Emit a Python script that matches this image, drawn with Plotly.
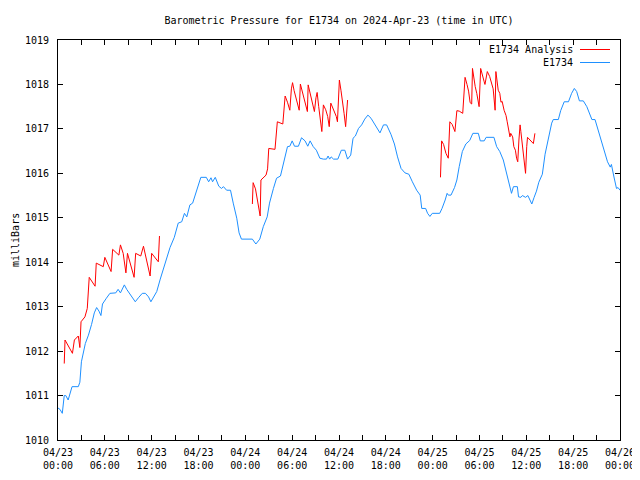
import pandas as pd
import plotly.graph_objects as go

BASE = pd.Timestamp("2024-04-23 00:00")

# E1734 observed (hours since 2024-04-23 00:00 UTC, millibars)
obs_hours = [0.0, 0.25, 0.55, 0.8, 1.0, 1.3, 1.8, 2.6, 2.8, 3.0, 3.5, 3.9, 4.3, 4.65, 4.95, 5.25, 5.5, 5.7,
             6.2, 6.65, 7.4, 7.7, 8.0, 8.5, 8.8, 9.2, 9.5, 9.9, 10.3, 10.8, 11.2, 11.6, 11.9, 12.2, 12.65,
             13.1, 13.7, 14.35, 14.9, 15.4, 15.85, 16.2, 16.5, 16.9, 17.25, 17.8, 18.3, 19.0, 19.3, 19.6,
             19.8, 20.15, 20.6, 20.95, 21.2, 21.6, 22.1, 22.45, 22.7, 22.9, 23.2, 23.5, 24.9, 25.35, 25.85,
             26.3, 26.8, 27.1, 27.6, 28.0, 28.5, 29.0, 29.4, 29.7, 30.0, 30.3, 30.8, 31.2, 31.65, 32.0,
             32.3, 32.7, 33.1, 33.55, 34.0, 34.4, 34.6, 34.8, 35.0, 35.3, 35.85, 36.3, 36.75, 37.1, 37.5,
             37.8, 38.1, 38.5, 38.9, 39.3, 39.7, 40.1, 40.6, 40.95, 41.25, 41.7, 42.1, 42.65, 43.1, 43.5,
             43.95, 44.45, 44.95, 45.4, 45.95, 46.4, 46.6, 47.1, 47.35, 47.65, 47.95, 48.9, 49.2, 49.6,
             49.85, 50.0, 50.35, 50.8, 51.1, 51.4, 51.8, 52.25, 52.75, 53.15, 53.85, 54.1, 54.6, 54.85,
             55.85, 56.2, 56.6, 57.05, 57.4, 57.7, 58.1, 58.35, 58.85, 59.0, 59.3, 59.5, 59.9, 60.2, 60.7,
             61.0, 61.3, 61.6, 62.05, 62.4, 62.8, 63.25, 63.45, 64.1, 64.4, 64.85, 65.4, 65.8, 66.15,
             66.45, 66.8, 67.3, 67.75, 68.1, 68.4, 68.8, 69.25, 69.65, 70.0, 70.4, 70.75, 70.9, 71.2,
             71.55, 71.75, 72.0]
obs_values = [1010.72, 1010.69, 1010.6, 1011.0, 1011.0, 1010.9, 1011.2, 1011.2, 1011.3, 1011.76, 1012.17,
              1012.36, 1012.6, 1012.86, 1012.98, 1012.9, 1012.8, 1013.06, 1013.19, 1013.3, 1013.31, 1013.39,
              1013.31, 1013.49, 1013.39, 1013.28, 1013.22, 1013.11, 1013.2, 1013.3, 1013.3, 1013.22, 1013.11,
              1013.19, 1013.34, 1013.62, 1013.98, 1014.33, 1014.56, 1014.88, 1014.91, 1015.1, 1015.02,
              1015.29, 1015.33, 1015.66, 1015.91, 1015.91, 1015.81, 1015.9, 1015.81, 1015.91, 1015.71,
              1015.66, 1015.7, 1015.62, 1015.62, 1015.33, 1015.14, 1014.99, 1014.66, 1014.52, 1014.52,
              1014.41, 1014.52, 1014.8, 1015.02, 1015.33, 1015.66, 1015.89, 1015.94, 1016.34, 1016.6,
              1016.61, 1016.73, 1016.61, 1016.61, 1016.8, 1016.73, 1016.61, 1016.73, 1016.6, 1016.52,
              1016.34, 1016.32, 1016.32, 1016.39, 1016.32, 1016.37, 1016.32, 1016.32, 1016.52, 1016.52,
              1016.32, 1016.41, 1016.79, 1016.84, 1017.01, 1017.09, 1017.22, 1017.31, 1017.24, 1017.09,
              1017.01, 1016.91, 1017.09, 1017.09, 1016.88, 1016.66, 1016.37, 1016.11, 1016.01, 1015.98,
              1015.81, 1015.62, 1015.51, 1015.21, 1015.21, 1015.1, 1015.03, 1015.1, 1015.1, 1015.21,
              1015.4, 1015.55, 1015.51, 1015.51, 1015.68, 1015.85, 1016.15, 1016.49, 1016.66, 1016.74,
              1016.9, 1016.9, 1016.73, 1016.73, 1016.81, 1016.81, 1016.6, 1016.49, 1016.3, 1016.04,
              1015.78, 1015.55, 1015.7, 1015.7, 1015.47, 1015.46, 1015.5, 1015.46, 1015.5, 1015.31,
              1015.46, 1015.6, 1015.8, 1015.98, 1016.43, 1016.8, 1017.13, 1017.21, 1017.21, 1017.41,
              1017.61, 1017.61, 1017.8, 1017.91, 1017.84, 1017.63, 1017.63, 1017.5, 1017.35, 1017.21,
              1017.21, 1016.94, 1016.71, 1016.49, 1016.26, 1016.14, 1016.2, 1015.94, 1015.66, 1015.68,
              1015.62]

# E1734 Analysis, three separate runs
ana1_hours = [0.8, 0.9, 1.85, 2.1, 2.6, 2.8, 2.95, 3.45, 3.75, 3.9, 4.0, 4.75, 4.9, 5.8, 6.0, 6.8, 7.0,
              7.8, 8.0, 8.35, 8.7, 8.9, 9.75, 9.95, 10.6, 10.95, 11.2, 11.8, 12.0, 12.85, 13.0]
ana1_values = [1011.72, 1012.25, 1011.95, 1012.25, 1012.34, 1012.08, 1012.66, 1012.77, 1012.96, 1013.34,
               1013.66, 1013.46, 1013.98, 1013.9, 1014.11, 1013.79, 1014.29, 1014.16, 1014.39, 1014.2,
               1013.76, 1014.2, 1013.66, 1014.2, 1014.14, 1014.36, 1014.16, 1013.69, 1014.2, 1014.01,
               1014.59]
ana2_hours = [24.9, 25.0, 25.3, 25.45, 25.7, 25.9, 26.0, 26.65, 26.85, 27.0, 27.8, 27.9, 28.1, 28.8, 28.95,
              29.1, 29.4, 29.7, 29.9, 30.05, 30.25, 30.6, 30.9, 31.05, 31.35, 31.7, 31.95, 32.05, 32.3,
              32.6, 32.85, 33.05, 33.2, 33.4, 33.65, 33.8, 34.0, 34.3, 34.55, 34.75, 34.95, 35.3, 35.65,
              35.8, 36.05, 36.25, 36.45, 36.65, 36.85, 36.95, 37.1]
ana2_values = [1015.31, 1015.79, 1015.65, 1015.47, 1015.25, 1015.04, 1015.85, 1015.96, 1016.1, 1016.56,
               1016.54, 1016.7, 1017.16, 1017.11, 1017.43, 1017.74, 1017.6, 1017.42, 1017.9, 1018.04,
               1017.86, 1017.63, 1017.42, 1018.01, 1017.8, 1017.6, 1017.39, 1017.99, 1017.8, 1017.57,
               1017.39, 1017.7, 1017.82, 1017.5, 1017.2, 1016.94, 1017.54, 1017.43, 1017.28, 1017.05,
               1017.58, 1017.42, 1017.28, 1017.16, 1018.1, 1017.87, 1017.65, 1017.35, 1017.05, 1017.35,
               1017.65]
ana3_hours = [49.0, 49.15, 49.4, 49.7, 50.0, 50.1, 50.2, 50.5, 50.85, 51.1, 51.4, 51.85, 52.0, 52.15, 52.4,
              52.6, 52.8, 53.0, 53.1, 53.3, 53.45, 53.65, 53.85, 53.95, 54.15, 54.35, 54.6, 54.7, 55.0,
              55.3, 55.5, 55.75, 56.0, 56.1, 56.4, 56.6, 56.75, 56.9, 57.15, 57.4, 57.55, 57.7, 57.9,
              58.0, 58.25, 58.4, 58.6, 58.75, 58.9, 59.05, 59.2, 59.3, 59.5, 59.6, 59.8, 59.9, 60.05,
              60.15, 60.9, 61.1]
ana3_values = [1015.91, 1016.73, 1016.65, 1016.45, 1016.34, 1016.75, 1017.16, 1017.1, 1016.94, 1017.41,
               1017.4, 1017.35, 1017.74, 1018.16, 1018.0, 1017.85, 1017.59, 1017.56, 1018.36, 1018.1,
               1017.95, 1017.8, 1017.58, 1017.5, 1018.36, 1018.2, 1018.06, 1018.0, 1018.29, 1018.18,
               1018.03, 1017.9, 1017.42, 1018.29, 1017.87, 1017.8, 1017.6, 1017.62, 1017.42, 1017.3,
               1017.16, 1017.0, 1016.82, 1016.9, 1016.82, 1016.6, 1016.52, 1016.34, 1016.26, 1016.75,
               1017.09, 1016.94, 1016.67, 1016.45, 1016.22, 1016.0, 1016.6, 1016.81, 1016.67, 1016.9]

TITLE = "Barometric Pressure for E1734 on 2024-Apr-23 (time in UTC)"
Y_LABEL = "milliBars"
NAME_ANA = "E1734 Analysis"
NAME_OBS = "E1734"
RED = "#ff0000"
BLUE = "#1e90ff"
FONT = "DejaVu Sans Mono"


def to_time(hours):
    return list(BASE + pd.to_timedelta(hours, unit="h"))


ana_x, ana_y = [], []
for hs, vs in [(ana1_hours, ana1_values), (ana2_hours, ana2_values), (ana3_hours, ana3_values)]:
    if ana_x:
        ana_x.append(None)
        ana_y.append(None)
    ana_x += to_time(hs)
    ana_y += vs

fig = go.Figure()
fig.add_trace(go.Scatter(x=ana_x, y=ana_y, mode="lines", name=NAME_ANA,
                         line=dict(color=RED, width=1), connectgaps=False, showlegend=False))
fig.add_trace(go.Scatter(x=to_time(obs_hours), y=obs_values, mode="lines", name=NAME_OBS,
                         line=dict(color=BLUE, width=1), showlegend=False))

# The page body has an 8px margin, so the figure is sized/placed to compensate.
OFF = 8
W, H = 640 - OFF, 480 - OFF
L, R, T, B = 58 - OFF, 20, 40 - OFF, 40
pw, ph = W - L - R, H - T - B


def px(xp):  # page pixel x -> paper
    return (xp - OFF - L) / pw


def py(yp):  # page pixel y -> paper
    return 1 - (yp - OFF - T) / ph


# legend drawn gnuplot-style (text, then line sample)
for i, (name, col) in enumerate([(NAME_ANA, RED), (NAME_OBS, BLUE)]):
    yy = 49.5 + 13 * i
    fig.add_annotation(text=name, xref="paper", yref="paper", x=px(575), y=py(yy),
                       xanchor="right", yanchor="middle", showarrow=False,
                       font=dict(family=FONT, size=10, color="black"))
    fig.add_shape(type="line", xref="paper", yref="paper", x0=px(580), x1=px(610),
                  y0=py(yy), y1=py(yy), line=dict(color=col, width=1))

fig.add_annotation(text=Y_LABEL, xref="paper", yref="paper", x=px(15), y=py(240),
                   textangle=-90, showarrow=False, xanchor="center", yanchor="middle",
                   font=dict(family=FONT, size=10, color="black"))

fig.update_layout(
    width=W, height=H,
    margin=dict(l=L, r=R, t=T, b=B, autoexpand=False),
    paper_bgcolor="white", plot_bgcolor="white",
    font=dict(family=FONT, size=10, color="black"),
    title=dict(text=TITLE, x=0.5, xref="paper", y=1 - (20 - OFF) / H, yref="container",
               xanchor="center", yanchor="middle", font=dict(family=FONT, size=10, color="black")),
    showlegend=False,
)
fig.update_xaxes(
    type="date",
    range=[BASE, BASE + pd.Timedelta(hours=72)],
    tick0=BASE, dtick=6 * 3600 * 1000,
    tickformat="%m/%d<br>%H:%M",
    ticks="inside", ticklen=5, tickcolor="black", tickwidth=1,
    minor=dict(dtick=3 * 3600 * 1000, ticks="inside", ticklen=5, tickcolor="black", showgrid=False),
    showline=True, linecolor="black", linewidth=1, mirror="allticks",
    showgrid=False, zeroline=False, ticklabelstandoff=3, automargin=False,
)
fig.update_yaxes(
    range=[1010, 1019], dtick=1, tick0=1010,
    ticks="inside", ticklen=5, tickcolor="black", tickwidth=1,
    showline=True, linecolor="black", linewidth=1, mirror="allticks",
    showgrid=False, zeroline=False, ticklabelstandoff=6, automargin=False,
)

fig.write_html("out.html")
